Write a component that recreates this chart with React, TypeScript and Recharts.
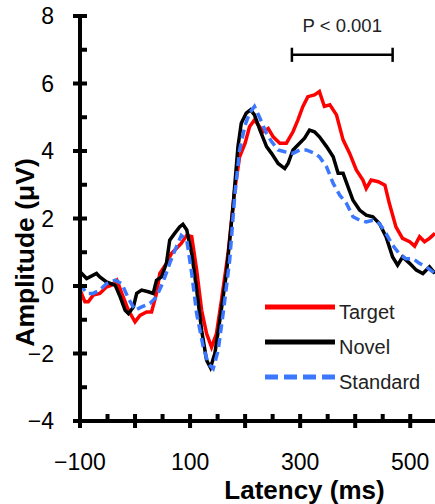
import { LineChart, Line, XAxis, YAxis, ReferenceLine, ReferenceDot, Label } from "recharts";

// ERP waveforms (latency in ms, amplitude in µV)
const targetMs = [-100, -91, -85, -76, -64, -52, -43, -33, -24, -12, 0, 9, 21, 30, 39, 45, 57, 66, 75, 84, 94, 103, 112, 121, 130, 139, 148, 157, 169, 181, 190, 200, 208, 217, 224, 233, 242, 251, 263, 275, 287, 296, 305, 314, 326, 335, 344, 354, 366, 378, 390, 402, 414, 420, 429, 442, 454, 462, 474, 486, 499, 508, 517, 526, 535, 545];
const targetUv = [-0.12, -0.47, -0.47, -0.27, -0.22, -0.03, 0.02, 0.17, -0.22, -0.72, -1.06, -0.87, -0.77, -0.77, -0.22, 0.37, 0.67, 0.96, 1.11, 1.26, 1.5, 1.46, 0.47, -0.72, -1.41, -1.81, -1.41, -0.42, 0.96, 2.84, 3.83, 4.23, 4.72, 4.92, 4.77, 4.57, 4.67, 4.42, 4.23, 4.23, 4.57, 4.92, 5.32, 5.61, 5.66, 5.76, 5.32, 5.37, 5.07, 4.33, 3.93, 3.44, 3.14, 2.89, 3.14, 3.09, 2.99, 2.45, 1.75, 1.41, 1.31, 1.18, 1.46, 1.31, 1.41, 1.56];

const novelMs = [-100, -88, -70, -64, -52, -36, -27, -18, -12, -3, 3, 12, 24, 33, 39, 48, 57, 63, 72, 81, 87, 94, 103, 112, 121, 130, 137, 145, 154, 166, 178, 187, 193, 202, 210, 217, 227, 239, 248, 260, 272, 278, 287, 299, 308, 317, 326, 335, 348, 360, 369, 378, 387, 396, 408, 420, 432, 444, 456, 468, 477, 486, 499, 511, 523, 535, 545];
const novelUv = [0.42, 0.22, 0.37, 0.27, 0.12, 0.02, -0.32, -0.72, -0.82, -0.62, -0.22, -0.12, -0.17, -0.22, 0.17, 0.27, 0.67, 1.36, 1.56, 1.75, 1.83, 1.66, 0.96, -0.12, -1.31, -2.2, -2.42, -2.0, -1.02, 0.37, 2.35, 4.13, 4.82, 5.12, 5.22, 5.07, 4.62, 4.13, 3.93, 3.63, 3.48, 3.63, 4.03, 4.23, 4.38, 4.62, 4.57, 4.42, 4.13, 3.83, 3.34, 3.34, 2.94, 2.54, 2.25, 2.1, 2.05, 1.85, 1.46, 0.86, 0.62, 0.86, 0.67, 0.47, 0.37, 0.57, 0.37];

const standardMs = [-100, -88, -76, -64, -52, -36, -24, -12, 0, 12, 27, 39, 51, 63, 75, 84, 94, 103, 112, 124, 133, 142, 151, 160, 172, 181, 190, 200, 208, 217, 227, 239, 248, 260, 272, 287, 299, 311, 326, 335, 348, 360, 372, 384, 396, 408, 420, 432, 444, 456, 468, 480, 492, 505, 517, 529, 545];
const standardUv = [0.07, -0.22, -0.22, -0.12, 0.07, 0.17, 0.07, -0.37, -0.72, -0.62, -0.52, -0.32, 0.12, 0.67, 1.16, 1.5, 1.36, 0.37, -0.82, -1.81, -2.3, -2.45, -1.91, -0.82, 0.77, 2.64, 4.03, 4.77, 5.12, 5.32, 4.97, 4.52, 4.28, 4.03, 3.98, 3.93, 4.03, 4.03, 3.93, 3.83, 3.53, 3.04, 2.69, 2.45, 2.05, 1.95, 1.9, 1.95, 1.85, 1.56, 1.21, 0.96, 0.81, 0.81, 0.67, 0.57, 0.37];

const latencyTicks = [-100, -50, 0, 50, 100, 150, 200, 250, 300, 350, 400, 450, 500];
const latencyLabels = [-100, 100, 300, 500];
const amplitudeTicks = [-4, -3, -2, -1, 0, 1, 2, 3, 4, 5, 6, 7, 8];
const amplitudeLabels = [-4, -2, 0, 2, 4, 6, 8];

// significance window
const sigWindow = [285, 468];
const sigLevel = 6.85;
const sigText = "P < 0.001";

const toPoints = (ms: number[], uv: number[]) => ms.map((t, i) => ({ ms: t, uv: uv[i] }));

const series = [
  { name: "Target", color: "#ff0000", dash: undefined as string | undefined, data: toPoints(targetMs, targetUv) },
  { name: "Novel", color: "#000000", dash: undefined as string | undefined, data: toPoints(novelMs, novelUv) },
  { name: "Standard", color: "#3b78ff", dash: "9 5", data: toPoints(standardMs, standardUv) },
];

const font = "'Liberation Sans', Arial, sans-serif";
const fmt = (v: number) => (v < 0 ? "\u2212" + Math.abs(v) : String(v));

// major ticks cross the axis, minor ticks point inward only
const YTick = (props: any) => {
  const { x, y, payload } = props;
  const v = Number(payload.value);
  const major = v % 2 === 0;
  return (
    <g>
      <line x1={major ? x - 7 : x} x2={x + 7} y1={y} y2={y} stroke="#000" strokeWidth={4} />
      {amplitudeLabels.includes(v) && (
        <text x={x - 26} y={y} textAnchor="end" dominantBaseline="central" fontFamily={font} fontSize={23} fill="#000">
          {fmt(v)}
        </text>
      )}
    </g>
  );
};

const XTick = (props: any) => {
  const { x, y, payload } = props;
  const v = Number(payload.value);
  const major = v % 100 === 0;
  return (
    <g>
      <line x1={x} x2={x} y1={y - 7} y2={major ? y + 7 : y} stroke="#000" strokeWidth={4} />
      {latencyLabels.includes(v) && (
        <text x={x} y={y + 41} textAnchor="middle" dominantBaseline="central" fontFamily={font} fontSize={23} fill="#000">
          {fmt(v)}
        </text>
      )}
    </g>
  );
};

export default function App() {
  return (
    <div style={{ position: "absolute", left: 0, top: 0, width: 435, height: 504, background: "#fff" }}>
      <LineChart width={435} height={504} margin={{ top: 16, right: 0, bottom: 0, left: 0 }}>
        <XAxis
          type="number"
          dataKey="ms"
          domain={[-100, 545]}
          ticks={latencyTicks}
          interval={0}
          tickSize={0}
          tickMargin={0}
          tickLine={false}
          tick={XTick}
          height={83}
          axisLine={{ stroke: "#000", strokeWidth: 4 }}
        >
          <Label
            content={({ viewBox }: any) => (
              <text
                x={viewBox.x + viewBox.width / 2 + 47}
                y={viewBox.y + 78}
                textAnchor="middle"
                fontFamily={font}
                fontWeight="bold"
                fontSize={26}
                fill="#000"
              >
                Latency (ms)
              </text>
            )}
          />
        </XAxis>
        <YAxis
          type="number"
          domain={[-4, 8]}
          ticks={amplitudeTicks}
          interval={0}
          tickSize={0}
          tickMargin={0}
          tickLine={false}
          tick={YTick}
          width={80}
          axisLine={{ stroke: "#000", strokeWidth: 4 }}
        >
          <Label
            content={({ viewBox }: any) => {
              const cx = viewBox.x + 25;
              const cy = viewBox.y + viewBox.height / 2 + 34;
              return (
                <text
                  x={cx}
                  y={cy}
                  transform={`rotate(-90 ${cx} ${cy})`}
                  textAnchor="middle"
                  dominantBaseline="central"
                  fontFamily={font}
                  fontWeight="bold"
                  fontSize={26.5}
                  fill="#000"
                >
                  Amplitude (μV)
                </text>
              );
            }}
          />
        </YAxis>
        {series.map((s) => (
          <Line
            key={s.name}
            data={s.data}
            dataKey="uv"
            name={s.name}
            type="linear"
            stroke={s.color}
            strokeWidth={3.5}
            strokeDasharray={s.dash}
            dot={false}
            activeDot={false}
            isAnimationActive={false}
          />
        ))}
        <ReferenceLine segment={[{ x: sigWindow[0], y: sigLevel }, { x: sigWindow[1], y: sigLevel }]} stroke="#000" strokeWidth={2.5} />
        <ReferenceLine segment={[{ x: sigWindow[0], y: sigLevel - 0.21 }, { x: sigWindow[0], y: sigLevel + 0.21 }]} stroke="#000" strokeWidth={2.5} />
        <ReferenceLine segment={[{ x: sigWindow[1], y: sigLevel - 0.21 }, { x: sigWindow[1], y: sigLevel + 0.21 }]} stroke="#000" strokeWidth={2.5} />
        <ReferenceDot
          x={(sigWindow[0] + sigWindow[1]) / 2}
          y={7.71}
          r={0}
          fill="none"
          stroke="none"
          label={{ value: sigText, position: "center", fontFamily: font, fontSize: 18.5, fill: "#222" }}
        />
      </LineChart>
      <svg width={175} height={110} style={{ position: "absolute", left: 262, top: 290 }}>
        {series.map((s, i) => (
          <g key={s.name}>
            <line x1={3} x2={73} y1={17 + i * 35} y2={17 + i * 35} stroke={s.color} strokeWidth={5} strokeDasharray={s.dash ? "13 6" : undefined} />
            <text x={77} y={22 + i * 35} dominantBaseline="central" fontFamily={font} fontSize={20} fill="#222">
              {s.name}
            </text>
          </g>
        ))}
      </svg>
    </div>
  );
}
